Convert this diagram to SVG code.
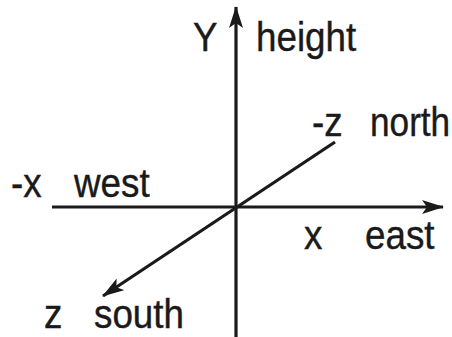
<svg xmlns="http://www.w3.org/2000/svg" width="452" height="337" viewBox="0 0 452 337">
<style>
text{font-family:"Liberation Sans",Arial,sans-serif;font-size:40px;fill:#1a1a1a;stroke:#1a1a1a;stroke-width:0.4}
.ax{stroke:#1a1a1a;stroke-width:3.2;fill:none}
</style>
<defs>
<marker id="ah" viewBox="0 0 22 14" refX="21" refY="7" markerWidth="22" markerHeight="14" markerUnits="userSpaceOnUse" orient="auto">
<path d="M0,0 L22,7 L0,14 L5,7 Z" fill="#1a1a1a"/>
</marker>
</defs>
<rect width="452" height="337" fill="#fff"/>
<g id="connectors">
<line class="ax" x1="236" y1="337" x2="236" y2="7" marker-end="url(#ah)"/>
<line class="ax" x1="52" y1="207" x2="443" y2="207" marker-end="url(#ah)"/>
<line class="ax" x1="335" y1="142" x2="103" y2="296" marker-end="url(#ah)"/>
</g>
<g id="label-y"><text transform="translate(193,51) scale(0.92,1)">Y</text></g>
<g id="label-height"><text transform="translate(256,51) scale(0.92,1)">height</text></g>
<g id="label-nz"><text transform="translate(312,136) scale(0.92,1)">-z</text></g>
<g id="label-north"><text transform="translate(370,136) scale(0.88,1)">north</text></g>
<g id="label-nx"><text transform="translate(11,197) scale(0.92,1)">-x</text></g>
<g id="label-west"><text transform="translate(74,197) scale(0.92,1)">west</text></g>
<g id="label-x"><text transform="translate(304,249) scale(0.92,1)">x</text></g>
<g id="label-east"><text transform="translate(365,249) scale(0.92,1)">east</text></g>
<g id="label-z"><text transform="translate(44,328) scale(0.92,1)">z</text></g>
<g id="label-south"><text transform="translate(94,328) scale(0.92,1)">south</text></g>
</svg>
